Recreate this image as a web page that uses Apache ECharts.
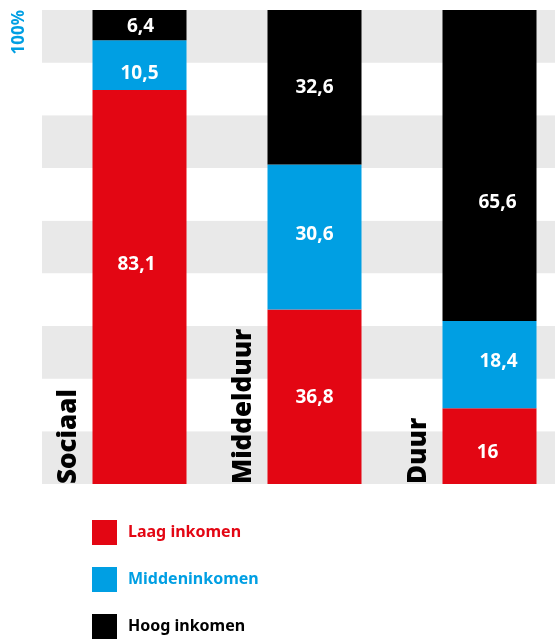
<!DOCTYPE html>
<html>
<head>
<meta charset="utf-8">
<script src="https://cdn.jsdelivr.net/npm/echarts@6/dist/echarts.min.js"></script>
<style>
html,body{margin:0;padding:0;background:#fff;}
#chart{width:555px;height:639px;}
</style>
</head>
<body>
<div id="chart"></div>
<script>
const categories = ['Sociaal', 'Middelduur', 'Duur'];
const laagInkomen = [83.1, 36.8, 16];
const middenInkomen = [10.5, 30.6, 18.4];
const hoogInkomen = [6.4, 32.6, 65.6];
const seriesNames = ['Laag inkomen', 'Middeninkomen', 'Hoog inkomen'];
const bandCount = 9;

// label nudges (style only), per series per category, in px
const labelNudge = {
  'Laag inkomen':  [[-3, -22], [0, 1], [-2, 7]],
  'Middeninkomen': [[0, 8], [0, -2], [9, -3]],
  'Hoog inkomen':  [[1, 1], [0, 0], [8, 37]]
};

const RED = '#e30613', BLUE = '#009fe3', BLACK = '#000000';
const BAR_W = 94;

const chart = echarts.init(document.getElementById('chart'), null, {renderer: 'canvas'});

const valueLabel = {
  show: true,
  position: 'inside',
  color: '#ffffff',
  fontFamily: 'Open Sans',
  fontWeight: 'bold',
  fontSize: 19,
  formatter: p => String(p.value).replace('.', ',')
};

function barSeries(name, data, color) {
  return {
    name: name,
    type: 'bar',
    stack: 'total',
    xAxisIndex: 1,
    yAxisIndex: 1,
    barWidth: BAR_W,
    data: data.map((v, i) => ({value: v, label: {offset: labelNudge[name][i]}})),
    itemStyle: {color: color},
    label: valueLabel,
    emphasis: {disabled: true},
    z: 3
  };
}

const option = {
  animation: false,
  grid: [
    {left: 42, right: 0, top: 10, bottom: 155, outerBoundsMode: 'none'},
    {left: 52, width: 525, top: 10, bottom: 155, outerBoundsMode: 'none'}
  ],
  xAxis: [
    {gridIndex: 0, type: 'value', min: 0, max: 1, show: false},
    {gridIndex: 1, type: 'category', data: categories, show: false}
  ],
  yAxis: [
    {
      gridIndex: 0, type: 'value', min: 0, max: bandCount, interval: 1,
      axisLine: {show: false}, axisTick: {show: false}, axisLabel: {show: false},
      splitLine: {show: false},
      splitArea: {show: true, areaStyle: {color: ['#e9e9e9', '#ffffff']}}
    },
    {
      gridIndex: 1, type: 'value', min: 0, max: 100, interval: 100,
      axisLine: {show: false}, axisTick: {show: false}, splitLine: {show: false},
      axisLabel: {
        show: true,
        formatter: v => (v === 100 ? '100%' : ''),
        rotate: 90,
        align: 'right',
        verticalAlign: 'middle',
        margin: 33,
        color: BLUE,
        fontFamily: 'Noto Sans',
        fontWeight: 'bold',
        fontSize: 17
      }
    }
  ],
  legend: {
    orient: 'vertical',
    left: 92,
    top: 520,
    padding: 0,
    itemWidth: 25,
    itemHeight: 25,
    itemGap: 22,
    icon: 'rect',
    selectedMode: false,
    textStyle: {
      fontFamily: 'Noto Sans',
      fontWeight: 'bold',
      fontSize: 16,
      padding: [0, 0, 0, 6]
    },
    data: [
      {name: seriesNames[0], textStyle: {color: RED}},
      {name: seriesNames[1], textStyle: {color: BLUE}},
      {name: seriesNames[2], textStyle: {color: BLACK}}
    ]
  },
  series: [
    barSeries(seriesNames[0], laagInkomen, RED),
    barSeries(seriesNames[1], middenInkomen, BLUE),
    barSeries(seriesNames[2], hoogInkomen, BLACK),
    {
      type: 'custom',
      xAxisIndex: 1,
      yAxisIndex: 1,
      silent: true,
      z: 4,
      data: categories.map((c, i) => [i, 0]),
      renderItem: function (params, api) {
        const p = api.coord([api.value(0), api.value(1)]);
        return {
          type: 'text',
          x: p[0] - BAR_W / 2 - 11,
          y: p[1],
          rotation: Math.PI / 2,
          style: {
            text: categories[params.dataIndex],
            fill: '#000',
            font: '900 26px "Noto Sans"',
            align: 'left',
            verticalAlign: 'bottom'
          }
        };
      }
    }
  ]
};

chart.setOption(option);
</script>
</body>
</html>
